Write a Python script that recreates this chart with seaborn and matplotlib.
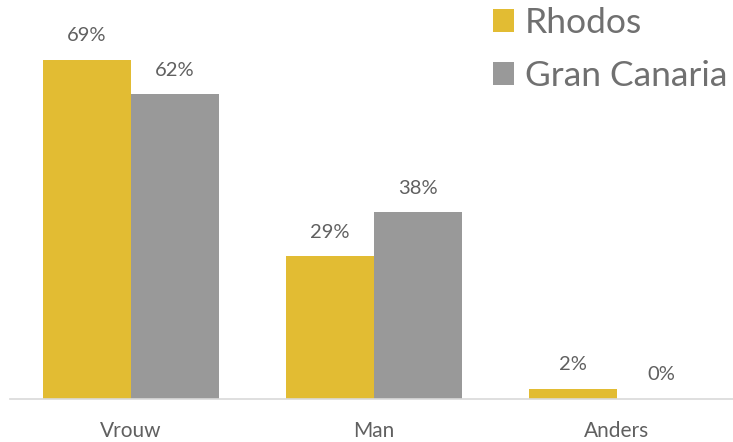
import matplotlib
matplotlib.use("Agg")
import matplotlib.pyplot as plt
import seaborn as sns
import pandas as pd

categories = ["Vrouw", "Man", "Anders"]
series_names = ["Rhodos", "Gran Canaria"]
rhodos = [69, 29, 2]
gran_canaria = [62, 38, 0]
colors = ["#E2BC33", "#999999"]

df = pd.DataFrame({
    "categorie": categories * 2,
    "eiland": [series_names[0]] * 3 + [series_names[1]] * 3,
    "waarde": rhodos + gran_canaria,
})

sns.set_theme(style="white")
plt.rcParams["font.family"] = ["Lato", "DejaVu Sans"]

W, H = 733, 442
fig = plt.figure(figsize=(W / 100, H / 100), dpi=100)
left_px, base_px = 9.5, 398.5
ax = fig.add_axes([left_px / W, (H - base_px) / H, (W - left_px) / W, base_px / H])

sns.barplot(data=df, x="categorie", y="waarde", hue="eiland", order=categories,
            hue_order=series_names, palette=colors, width=0.724, dodge=True,
            saturation=1, ax=ax, linewidth=0, errorbar=None)

ax.set_xlim(-0.5, (W - left_px) / 243 - 0.5)
ax.set_ylim(0, base_px / 4.91)

for cont in ax.containers:
    ax.bar_label(cont, labels=[f"{v:.0f}%" for v in cont.datavalues], padding=11,
                 fontsize=14.5, color="#606060")

ax.set_xlabel("")
ax.set_ylabel("")
ax.set_yticks([])
ax.tick_params(axis="x", length=0, pad=16, labelsize=15, labelcolor="#606060")
for s in ["top", "right", "left"]:
    ax.spines[s].set_visible(False)
ax.spines["bottom"].set_color("#D9D9D9")
ax.spines["bottom"].set_linewidth(1.2)

handles, labels = ax.get_legend_handles_labels()
ax.legend(handles, labels, loc="upper right", bbox_to_anchor=(0.992, 0.983), frameon=False,
          fontsize=25.5, labelcolor="#707070", handlelength=0.6, handleheight=0.6,
          handletextpad=0.3, labelspacing=0.6, borderaxespad=0.0, borderpad=0.0)

fig.savefig("out.png", dpi=100)
